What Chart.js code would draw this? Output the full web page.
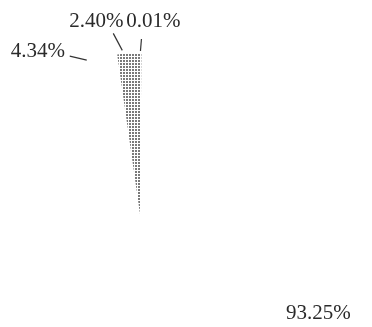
<!DOCTYPE html>
<html lang="en">
<head>
  <meta charset="UTF-8">
  <title>Share pie</title>
  <script src="https://cdn.jsdelivr.net/npm/chart.js"></script>
  <style>
    * { margin: 0; padding: 0; box-sizing: border-box; }
    html, body { width: 372px; height: 327px; overflow: hidden; background: white; }
    #pie { position: absolute; left: -30px; top: 0; }
  </style>
</head>
<body>
  <canvas id="pie" width="402" height="400"></canvas>

  <script>
    // slice order goes clockwise from the top
    var sliceNames = ['a', 'b', 'c', 'd'];
    var sliceValues = [0.01, 93.25, 4.34, 2.40];
    var sliceLabels = ['0.01%', '93.25%', '4.34%', '2.40%'];

    // dotted fill for the small slice
    function dotPattern() {
      var c = document.createElement('canvas');
      c.width = 3; c.height = 3;
      var g = c.getContext('2d');
      g.fillStyle = '#ffffff';
      g.fillRect(0, 0, 3, 3);
      g.fillStyle = '#7a7a7a';
      g.fillRect(0, 0, 2, 2);
      return g.createPattern(c, 'repeat');
    }
    var dots = dotPattern();

    // label placement relative to the outer mid point of each slice
    // line: [x1, y1, x2, y2], text: [x, baseline]
    var labelLayout = [
      { line: [-1, -2, 0, -14], text: [12, -26] },
      { line: null, text: [146, -53] },
      { line: [-9, 1, -26, -3], text: [-58, -2] },
      { line: [-7, -3, -16, -20], text: [-33, -26] }
    ];

    var labelPlugin = {
      id: 'sliceLabels',
      afterDraw: function (chart) {
        var ctx = chart.ctx;
        var meta = chart.getDatasetMeta(0);
        ctx.save();
        ctx.font = '21px "Liberation Serif", "Times New Roman", serif';
        ctx.fillStyle = '#2a2a2a';
        ctx.strokeStyle = '#333';
        ctx.lineWidth = 1.2;
        ctx.textAlign = 'center';
        ctx.textBaseline = 'alphabetic';
        meta.data.forEach(function (arc, i) {
          var p = arc.getProps(['x', 'y', 'startAngle', 'endAngle', 'outerRadius'], true);
          var mid = (p.startAngle + p.endAngle) / 2;
          var ax = p.x + Math.cos(mid) * p.outerRadius;
          var ay = p.y + Math.sin(mid) * p.outerRadius;
          var lay = labelLayout[i];
          if (lay.line) {
            ctx.beginPath();
            ctx.moveTo(ax + lay.line[0], ay + lay.line[1]);
            ctx.lineTo(ax + lay.line[2], ay + lay.line[3]);
            ctx.stroke();
          }
          ctx.fillText(sliceLabels[i], ax + lay.text[0], ay + lay.text[1]);
        });
        ctx.restore();
      }
    };

    var pieChart = new Chart(document.getElementById('pie').getContext('2d'), {
      type: 'pie',
      data: {
        labels: sliceNames,
        datasets: [{
          data: sliceValues,
          backgroundColor: ['#ffffff', '#ffffff', '#ffffff', dots],
          borderWidth: 0,
          hoverOffset: 0
        }]
      },
      options: {
        responsive: false,
        animation: false,
        rotation: 0.5,
        layout: { padding: { left: 9, right: 71, top: 53, bottom: 25 } },
        plugins: {
          legend: { display: false },
          tooltip: { enabled: false }
        }
      },
      plugins: [labelPlugin]
    });
  </script>
</body>
</html>
